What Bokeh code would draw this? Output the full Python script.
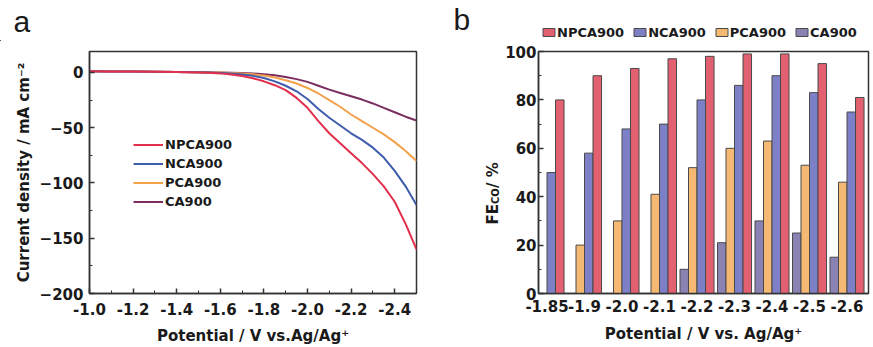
import numpy as np
from bokeh.plotting import figure
from bokeh.layouts import row, column
from bokeh.models import Range1d, FixedTicker, PrintfTickFormatter, Legend, LegendItem, Label
from bokeh.embed import file_html
from bokeh.resources import INLINE

# ---------------- Panel a: LSV curves ----------------
potential = [-1.0, -1.1, -1.2, -1.3, -1.4, -1.5, -1.55, -1.6, -1.65, -1.7, -1.75, -1.8, -1.85,
             -1.9, -1.95, -2.0, -2.05, -2.1, -2.15, -2.2, -2.25, -2.3, -2.35, -2.4, -2.45, -2.5]
j_npca900 = [1.2, 1.0, 0.8, 0.6, 0.4, 0.1, -0.2, -0.8, -1.8, -3.2, -5.2, -8, -11.5,
             -16, -23, -32, -44, -55, -64, -73, -82, -92, -103, -117, -137, -160]
j_nca900 = [1.2, 1.0, 0.8, 0.6, 0.4, 0.2, 0.0, -0.4, -1.0, -1.8, -3, -5, -8,
            -12, -17, -24, -33, -41, -48, -55, -61, -68, -77, -89, -103, -120]
j_pca900 = [1.2, 1.0, 0.8, 0.6, 0.4, 0.2, 0.1, -0.1, -0.4, -0.9, -1.6, -2.8, -4.5,
            -7, -10, -14, -19, -25, -31, -38, -44, -50, -56, -63, -71, -80]
j_ca900 = [1.2, 1.0, 0.8, 0.6, 0.4, 0.2, 0.1, 0.0, -0.2, -0.5, -0.9, -1.5, -2.5,
           -4, -6, -8.5, -12, -15.5, -18.5, -21.5, -24.5, -28, -32, -36, -40, -43.5]
a_xticks = [-1.0, -1.2, -1.4, -1.6, -1.8, -2.0, -2.2, -2.4]
a_yticks = [0, -50, -100, -150, -200]

# ---------------- Panel b: FE(CO) bars ----------------
fe_labels = ["-1.85", "-1.9", "-2.0", "-2.1", "-2.2", "-2.3", "-2.4", "-2.5", "-2.6"]
fe_npca900 = [80, 90, 93, 97, 98, 99, 99, 95, 81]
fe_nca900 = [50, 58, 68, 70, 80, 86, 90, 83, 75]
fe_pca900 = [0, 20, 30, 41, 52, 60, 63, 53, 46]
fe_ca900 = [0, 0, 0, 0, 10, 21, 30, 25, 15]
b_yticks = [0, 20, 40, 60, 80, 100]

FONT = "DejaVu Sans"
TXT = "#1a1a1a"
FRAME = "#333333"
W = 873
H = 347
BAND = 41                 # top band holding panel letters and the bar legend
TOP_IN = 10               # space above the frames inside the lower row
BOTTOM = 54
ROW_H = H - BAND
FRAME_BOTTOM = H - BOTTOM  # page y of frame bottoms

COLORS_LINE = {"NPCA900": "#e2304c", "NCA900": "#3d5cab", "PCA900": "#f4a14c", "CA900": "#7a2d5f"}
COLORS_BAR = {"NPCA900": "#e2606f", "NCA900": "#7d80c6", "PCA900": "#f6b973", "CA900": "#8a82b3"}
ORDER = ["NPCA900", "NCA900", "PCA900", "CA900"]


def style_axes(p):
    p.outline_line_color = FRAME
    p.outline_line_width = 1.5
    p.xgrid.visible = False
    p.ygrid.visible = False
    for ax in (p.xaxis[0], p.yaxis[0]):
        ax.axis_line_color = FRAME
        ax.axis_line_width = 1.5
        ax.major_tick_line_color = FRAME
        ax.minor_tick_line_color = FRAME
        ax.major_tick_line_width = 1.5
        ax.major_tick_in = 5
        ax.major_tick_out = 0
        ax.minor_tick_in = 3
        ax.minor_tick_out = 0
        ax.major_label_text_font = FONT
        ax.major_label_text_font_style = "bold"
        ax.major_label_text_font_size = "15px"
        ax.major_label_text_color = TXT
        ax.axis_label_text_font = FONT
        ax.axis_label_text_font_style = "bold"
        ax.axis_label_text_font_size = "15px"
        ax.axis_label_text_color = TXT


def blank(width, height, top=0, bottom=0):
    f = figure(width=width, height=height, output_backend="svg", toolbar_location=None,
               x_range=Range1d(0, width), y_range=Range1d(0, height - top - bottom),
               x_axis_location=None, y_axis_location=None,
               min_border_left=0, min_border_right=0, min_border_top=top, min_border_bottom=bottom)
    f.outline_line_color = None
    f.grid.visible = False
    return f


# ---- top band: letters a, b and the bar-chart legend ----
band = blank(W, BAND)
band.add_layout(Label(x=13, y=BAND - 37, text="a", text_font="Liberation Sans",
                      text_font_size="30px", text_color=TXT))
band.add_layout(Label(x=453, y=BAND - 35, text="b", text_font="Liberation Sans",
                      text_font_size="30px", text_color=TXT))
# legend proxies: one bar each, placed left of the band's visible range so only the legend swatch shows
swatch = {}
for name in ORDER:
    swatch[name] = band.vbar(x=[-100], top=[1], width=1, fill_color=COLORS_BAR[name],
                             line_color="#4a4a4a", line_width=1)
leg_b = Legend(items=[LegendItem(label=n_, renderers=[swatch[n_]]) for n_ in ORDER],
               location=(541, 1), orientation="horizontal", glyph_width=15, glyph_height=10,
               label_height=16, spacing=8, padding=0, margin=0, label_standoff=1,
               border_line_color=None, background_fill_alpha=0,
               label_text_font=FONT, label_text_font_style="bold", label_text_font_size="13px",
               label_text_color=TXT)
band.add_layout(leg_b)

# ---- figure a ----
pa = figure(width=440, height=ROW_H, output_backend="svg", toolbar_location=None,
            x_range=Range1d(-1.0, -2.5), y_range=Range1d(-200, 19),
            min_border_left=89, min_border_right=24, min_border_top=TOP_IN, min_border_bottom=BOTTOM)
style_axes(pa)
pa.xaxis.ticker = FixedTicker(ticks=a_xticks, minor_ticks=[-1.1, -1.3, -1.5, -1.7, -1.9, -2.1, -2.3, -2.5])
pa.xaxis.formatter = PrintfTickFormatter(format="%.1f")
pa.yaxis.ticker = FixedTicker(ticks=a_yticks, minor_ticks=[-25, -75, -125, -175])
pa.xaxis.major_label_standoff = 9
pa.yaxis.major_label_standoff = 6
pa.xaxis.axis_label = "Potential / V vs.Ag/Ag\u207a"
pa.yaxis.axis_label = "Current density / mA cm\u207b\u00b2"
pa.xaxis.axis_label_standoff = 9
pa.yaxis.axis_label_standoff = 4

line_series = [("CA900", j_ca900), ("PCA900", j_pca900), ("NCA900", j_nca900), ("NPCA900", j_npca900)]
a_r = {}
for name, vals in line_series:
    a_r[name] = pa.line(potential, vals, line_color=COLORS_LINE[name], line_width=2, line_join="round")

leg_a = Legend(items=[LegendItem(label=n, renderers=[a_r[n]]) for n in ORDER],
               location=(44, 82), glyph_width=30, glyph_height=19, label_height=19, spacing=0,
               padding=0, margin=0, label_standoff=2, border_line_color=None, background_fill_alpha=0,
               label_text_font=FONT, label_text_font_style="bold", label_text_font_size="13px",
               label_text_color=TXT)
pa.add_layout(leg_a)

# ---- narrow strip: FE(CO) axis title with a real subscript ----
SW = 62
sb = blank(SW, ROW_H, top=TOP_IN, bottom=BOTTOM)


def strip_label(x, page_y, text, size):
    sb.add_layout(Label(x=x, y=FRAME_BOTTOM - page_y, text=text, angle=np.pi / 2,
                        text_align="left", text_baseline="alphabetic",
                        text_font=FONT, text_font_style="bold", text_font_size=size, text_color=TXT))


strip_label(52, 224, "FE", "15px")
strip_label(55, 203.5, "CO", "10px")
strip_label(52, 187.5, " / %", "15px")

# ---- figure b ----
n = len(fe_labels)
idx = np.arange(n)
w = 0.227
pb = figure(width=W - 440 - SW, height=ROW_H, output_backend="svg", toolbar_location=None,
            x_range=Range1d(-0.227, 8.573), y_range=Range1d(0, 100),
            min_border_left=538 - 440 - SW, min_border_right=5, min_border_top=TOP_IN, min_border_bottom=BOTTOM)
style_axes(pb)
pb.xaxis.ticker = FixedTicker(ticks=list(idx))
pb.xaxis.major_label_overrides = {int(i): lab_ for i, lab_ in zip(idx, fe_labels)}
pb.xaxis.major_tick_in = 0
pb.xaxis.minor_tick_in = 0
pb.yaxis.ticker = FixedTicker(ticks=b_yticks, minor_ticks=[10, 30, 50, 70, 90])
pb.xaxis.major_label_standoff = 6
pb.yaxis.major_label_standoff = 2
pb.xaxis.axis_label = "Potential / V vs. Ag/Ag\u207a"
pb.xaxis.axis_label_standoff = 10

bar_series = [("CA900", fe_ca900, -1.5), ("PCA900", fe_pca900, -0.5),
              ("NCA900", fe_nca900, 0.5), ("NPCA900", fe_npca900, 1.5)]
for name, vals, off in bar_series:
    pb.vbar(x=idx + off * w, top=vals, bottom=0, width=w, fill_color=COLORS_BAR[name],
            line_color="#4a4a4a", line_width=1)

layout = column(band, row(pa, sb, pb, spacing=0), spacing=0)
open("out.html", "w").write(file_html(layout, INLINE))
